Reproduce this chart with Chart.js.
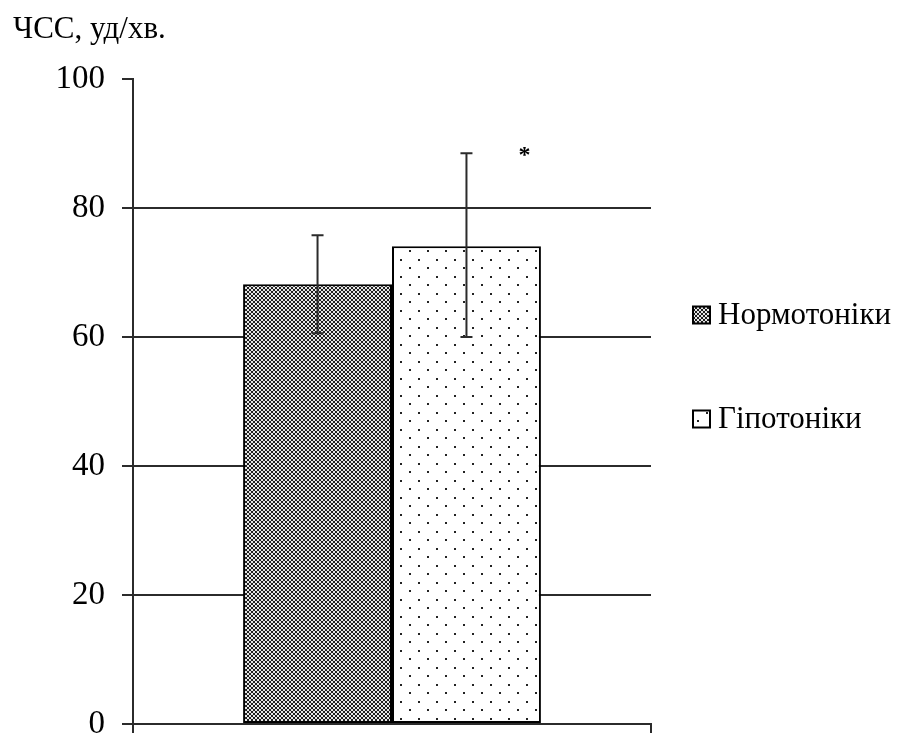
<!DOCTYPE html>
<html>
<head>
<meta charset="utf-8">
<script src="https://cdn.jsdelivr.net/npm/chart.js@4/dist/chart.umd.min.js"></script>
<style>
  html, body { margin: 0; padding: 0; background: #fff; }
  #wrap { width: 898px; height: 736px; }
</style>
</head>
<body>
<div id="wrap"><canvas id="chart" width="898" height="736"></canvas></div>
<script>
// Data
const categories = [''];
const seriesNames = ['Нормотоніки', 'Гіпотоніки'];
const meanValues = [68.2, 74.1];
const errLow = [60.6, 60.0];
const errHigh = [75.8, 88.5];
const marks = ['', '*'];
const markValue = 89;
const yTicks = [0, 20, 40, 60, 80, 100];

const FONT = "'Liberation Serif', 'Times New Roman', serif";
const LINE = '#2b2b2b';

// Fill patterns
function makeCrossHatch() {
    const c = document.createElement('canvas');
    c.width = 4; c.height = 4;
    const g = c.getContext('2d');
    g.fillStyle = '#e6e6e6';
    g.fillRect(0, 0, 4, 4);
    g.fillStyle = '#1e1e1e';
    for (let i = 0; i < 4; i++) {
        g.fillRect(i, i, 1, 1);
        g.fillRect(3 - i, i, 1, 1);
    }
    return g.createPattern(c, 'repeat');
}

function makeDots() {
    const c = document.createElement('canvas');
    c.width = 18; c.height = 17;
    const g = c.getContext('2d');
    g.fillStyle = '#ffffff';
    g.fillRect(0, 0, 18, 17);
    g.fillStyle = '#222222';
    g.fillRect(4, 4, 2, 2);
    g.fillRect(13, 12, 2, 2);
    return g.createPattern(c, 'repeat');
}

const fills = [makeCrossHatch(), makeDots()];

// Error bars and significance marks
const errorBarPlugin = {
    id: 'errorBars',
    afterDatasetsDraw(chart) {
        const ctx = chart.ctx;
        const y = chart.scales.y;
        ctx.save();
        ctx.strokeStyle = LINE;
        ctx.lineWidth = 2;
        chart.data.datasets.forEach((ds, i) => {
            const bar = chart.getDatasetMeta(i).data[0];
            if (!bar) return;
            const x = bar.x;
            const top = y.getPixelForValue(errHigh[i]);
            const bot = y.getPixelForValue(errLow[i]);
            ctx.beginPath();
            ctx.moveTo(x, top); ctx.lineTo(x, bot);
            ctx.moveTo(x - 6, top); ctx.lineTo(x + 6, top);
            ctx.moveTo(x - 6, bot); ctx.lineTo(x + 6, bot);
            ctx.stroke();
            if (marks[i]) {
                ctx.fillStyle = '#000';
                ctx.font = 'bold 24px ' + FONT;
                ctx.textAlign = 'center';
                ctx.textBaseline = 'middle';
                ctx.fillText(marks[i], x + bar.width * 0.39, y.getPixelForValue(markValue) + 6);
            }
        });
        ctx.restore();
    }
};

// Legend on the right, drawn from the datasets
const sideLegendPlugin = {
    id: 'sideLegend',
    afterDraw(chart, args, opts) {
        const ctx = chart.ctx;
        ctx.save();
        ctx.font = opts.fontSize + 'px ' + FONT;
        ctx.textBaseline = 'middle';
        ctx.textAlign = 'left';
        chart.data.datasets.forEach((ds, i) => {
            const cy = opts.top + i * opts.step;
            const s = opts.box;
            ctx.fillStyle = ds.backgroundColor;
            ctx.fillRect(opts.left, cy - s / 2, s, s);
            ctx.strokeStyle = '#000';
            ctx.lineWidth = 2;
            ctx.strokeRect(opts.left, cy - s / 2, s, s);
            ctx.fillStyle = '#000';
            ctx.fillText(ds.label, opts.left + s + 8, cy + 1);
        });
        ctx.restore();
    }
};

const datasets = seriesNames.map((name, i) => ({
    label: name,
    data: [meanValues[i]],
    backgroundColor: fills[i],
    borderColor: '#000',
    borderWidth: 2,
    borderSkipped: false,
    categoryPercentage: 0.575,
    barPercentage: 1.0
}));

new Chart(document.getElementById('chart'), {
    type: 'bar',
    data: { labels: categories, datasets: datasets },
    plugins: [errorBarPlugin, sideLegendPlugin],
    options: {
        responsive: false,
        animation: false,
        layout: { padding: { left: 13, right: 247, top: 0, bottom: 0 } },
        scales: {
            x: {
                ticks: { display: true, font: { size: 1 } },
                grid: {
                    display: true,
                    offset: true,
                    drawOnChartArea: false,
                    drawTicks: true,
                    tickLength: 9,
                    color: LINE,
                    lineWidth: 2
                },
                border: { display: true, color: LINE, width: 2 },
                afterFit: (s) => { s.height = 12; s.paddingLeft = 0; s.paddingRight = 0; }
            },
            y: {
                min: 0,
                max: 100,
                afterBuildTicks: (s) => { s.ticks = yTicks.map(v => ({ value: v })); },
                ticks: {
                    color: '#000',
                    padding: 17,
                    font: { family: FONT, size: 33 }
                },
                grid: {
                    color: (c) => (c.tick && c.tick.value === 100) ? 'rgba(0,0,0,0)' : LINE,
                    tickColor: LINE,
                    lineWidth: 2,
                    tickLength: 11
                },
                border: { display: true, color: LINE, width: 2 },
                afterFit: (s) => { s.width = 120; s.paddingTop = 0; s.paddingBottom = 0; }
            }
        },
        plugins: {
            legend: { display: false },
            tooltip: { enabled: false },
            title: {
                display: true,
                text: 'ЧСС, уд/хв.',
                align: 'start',
                color: '#000',
                font: { family: FONT, size: 31, weight: 'normal' },
                padding: { top: 11, bottom: 31 }
            },
            sideLegend: { left: 693, top: 315, step: 104, box: 17, fontSize: 31 }
        }
    }
});
</script>
</body>
</html>
